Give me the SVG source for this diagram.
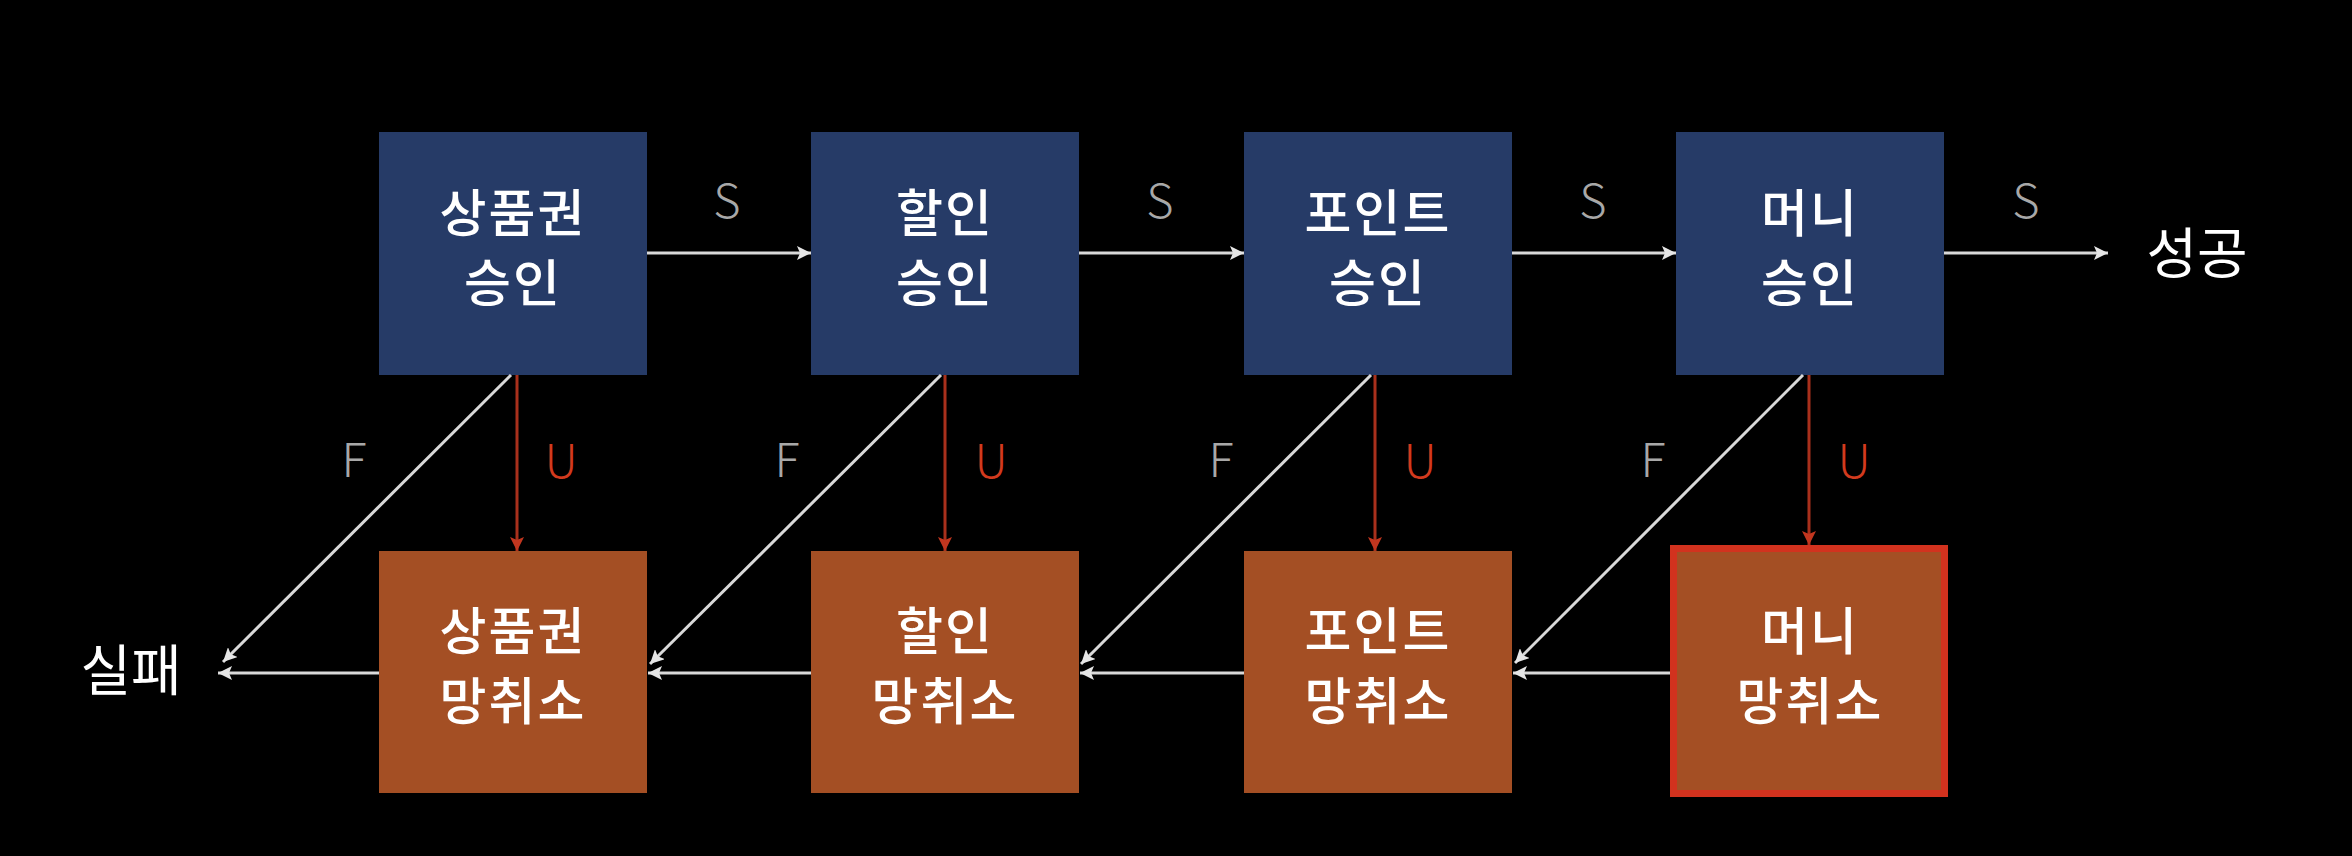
<svg xmlns="http://www.w3.org/2000/svg" width="2352" height="856" viewBox="0 0 2352 856">
<style>
.bg{fill:#000}
.top{fill:#263b67}
.bot{fill:#a44f24}
.txt{font-family:"Noto Sans CJK KR","Noto Sans",sans-serif;font-size:51px;font-weight:500;fill:#fff;text-anchor:middle;letter-spacing:2px}
.end{font-family:"Noto Sans CJK KR","Noto Sans",sans-serif;font-size:55px;fill:#fff;text-anchor:middle}
.lbl{font-family:"Noto Sans CJK KR","Noto Sans",sans-serif;font-weight:300;font-size:47px;text-anchor:middle}
.g{fill:#a8a8a8}
.r{fill:#d23a1e}
.w{stroke:#d9d9d9;stroke-width:3;fill:none;marker-end:url(#aw)}
.u{stroke:#a9301c;stroke-width:3;fill:none;marker-end:url(#ar)}
</style>
<defs>
<marker id="aw" markerWidth="16" markerHeight="14" refX="14" refY="7" orient="auto" markerUnits="userSpaceOnUse">
<path d="M0,0 L14,7 L0,14 L3,7 Z" fill="#e6e6e6"/>
</marker>
<marker id="ar" markerWidth="16" markerHeight="14" refX="14" refY="7" orient="auto" markerUnits="userSpaceOnUse">
<path d="M0,0 L14,7 L0,14 L3,7 Z" fill="#c2361f"/>
</marker>
</defs>
<rect class="bg" x="0" y="0" width="2352" height="856"/>

<g id="approve1"><rect class="top" x="379" y="132" width="268" height="243"/><text class="txt" x="513" y="232">상품권</text><text class="txt" x="513" y="302">승인</text></g>
<g id="approve2"><rect class="top" x="811" y="132" width="268" height="243"/><text class="txt" x="945" y="232">할인</text><text class="txt" x="945" y="302">승인</text></g>
<g id="approve3"><rect class="top" x="1244" y="132" width="268" height="243"/><text class="txt" x="1378" y="232">포인트</text><text class="txt" x="1378" y="302">승인</text></g>
<g id="approve4"><rect class="top" x="1676" y="132" width="268" height="243"/><text class="txt" x="1810" y="232">머니</text><text class="txt" x="1810" y="302">승인</text></g>

<g id="cancel1"><rect class="bot" x="379" y="551" width="268" height="242"/><text class="txt" x="513" y="650">상품권</text><text class="txt" x="513" y="720">망취소</text></g>
<g id="cancel2"><rect class="bot" x="811" y="551" width="268" height="242"/><text class="txt" x="945" y="650">할인</text><text class="txt" x="945" y="720">망취소</text></g>
<g id="cancel3"><rect class="bot" x="1244" y="551" width="268" height="242"/><text class="txt" x="1378" y="650">포인트</text><text class="txt" x="1378" y="720">망취소</text></g>
<g id="cancel4"><rect class="bot" x="1673.5" y="548.5" width="271" height="245" stroke="#d2321e" stroke-width="7"/><text class="txt" x="1810" y="650">머니</text><text class="txt" x="1810" y="720">망취소</text></g>

<g id="success"><text class="end" x="2197" y="273">성공</text></g>
<g id="fail"><text class="end" x="131" y="690">실패</text></g>

<g id="connectors">
<line class="w" x1="647" y1="253" x2="811" y2="253"/>
<line class="w" x1="1079" y1="253" x2="1244" y2="253"/>
<line class="w" x1="1512" y1="253" x2="1676" y2="253"/>
<line class="w" x1="1944" y1="253" x2="2108" y2="253"/>

<line class="u" x1="517" y1="375" x2="517" y2="551"/>
<line class="u" x1="945" y1="375" x2="945" y2="551"/>
<line class="u" x1="1375" y1="375" x2="1375" y2="551"/>
<line class="u" x1="1809" y1="375" x2="1809" y2="545"/>

<line class="w" x1="511" y1="375" x2="223" y2="662"/>
<line class="w" x1="941" y1="375" x2="650" y2="664"/>
<line class="w" x1="1371" y1="375" x2="1081" y2="664"/>
<line class="w" x1="1803" y1="375" x2="1515" y2="663"/>

<line class="w" x1="379" y1="673" x2="218" y2="673"/>
<line class="w" x1="811" y1="673" x2="648" y2="673"/>
<line class="w" x1="1244" y1="673" x2="1080" y2="673"/>
<line class="w" x1="1670" y1="673" x2="1513" y2="673"/>

<text class="lbl g" x="727" y="218">S</text>
<text class="lbl g" x="1160" y="218">S</text>
<text class="lbl g" x="1593" y="218">S</text>
<text class="lbl g" x="2026" y="218">S</text>

<text class="lbl g" x="354" y="477">F</text>
<text class="lbl g" x="787" y="477">F</text>
<text class="lbl g" x="1221" y="477">F</text>
<text class="lbl g" x="1653" y="477">F</text>

<text class="lbl r" x="561" y="478">U</text>
<text class="lbl r" x="991" y="478">U</text>
<text class="lbl r" x="1420" y="478">U</text>
<text class="lbl r" x="1854" y="478">U</text>
</g>
</svg>
